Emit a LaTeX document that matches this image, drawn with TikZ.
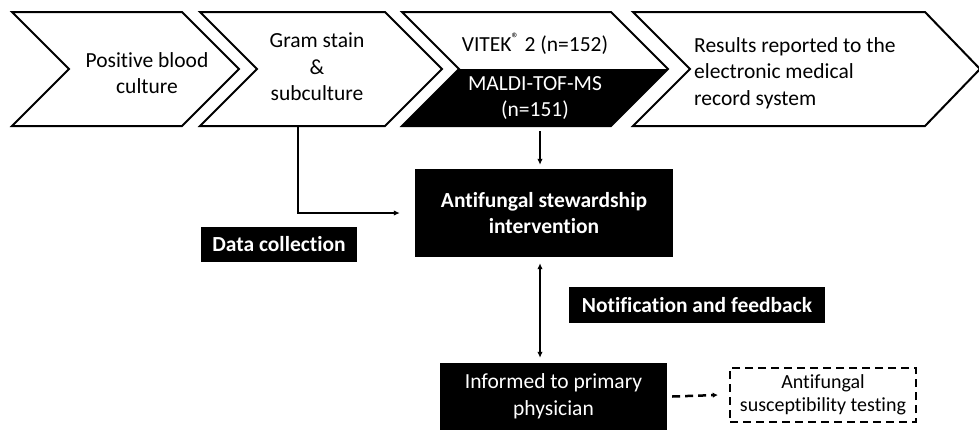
\documentclass[tikz,border=0pt]{standalone}
\usepackage{fontspec}
\setmainfont{Carlito}[Ligatures={NoCommon}]
\usetikzlibrary{arrows.meta}

\begin{document}
\begin{tikzpicture}[
	x=1pt, y=-1pt,
	chevron/.style={draw=black, line width=2pt, line join=miter, fill=white},
	txt/.style={font=\fontsize{21.5}{26.5}\selectfont, align=center, inner sep=0pt},
	blackbox/.style={fill=black, text=white, align=center, inner sep=0pt,
		font=\fontsize{21.5}{26.5}\selectfont},
	blackbold/.style={blackbox, font=\fontsize{21.5}{26.5}\selectfont\bfseries},
	arr/.style={line width=1.5pt, -{Latex[length=6pt,width=5.5pt]}}
	]
	
	% Obszar rysunku
	\useasboundingbox (0,0) rectangle (979,429);
	
	% Strzalki procesu
	\draw[chevron] (12,12) -- (182,12) -- (239,69) -- (182,126) -- (12,126) -- (69,69) -- cycle;
	\draw[chevron] (200,12) -- (385,12) -- (442,69) -- (385,126) -- (200,126) -- (257,69) -- cycle;
	\draw[chevron] (402,12) -- (611,12) -- (668,69) -- (611,126) -- (402,126) -- (459,69) -- cycle;
	\fill[black] (459,69) -- (668,69) -- (611,126) -- (402,126) -- cycle;
	\draw[chevron] (633,12) -- (925,12) -- (980,69) -- (925,126) -- (633,126) -- (690,69) -- cycle;
	
	% Opisy strzalek
	\node[txt] (blood) at (147,73) {Positive blood\\culture};
	\node[txt] (gram) at (317,67) {Gram stain\\\&\\subculture};
	\node[txt] (vitek) at (535,44) {VITEK\textsuperscript{\textregistered} 2 (n=152)};
	\node[txt, text=white] (maldi) at (535,98) {MALDI-TOF-MS\\(n=151)};
	\node[txt, align=left, anchor=west] (emr) at (694,73)
	{Results reported to the\\electronic medical\\record system};
	
	% Punkty zaczepienia
	\coordinate (gram-foot) at (298,127);
	\coordinate (maldi-foot) at (540,131);
	\coordinate (fb) at (540,0);
	
	% Bloki
	\node[blackbold, minimum width=258pt, minimum height=88pt] (interv) at (544,213)
	{Antifungal stewardship\\intervention};
	\node[blackbold, minimum width=156pt, minimum height=35pt] (data) at (279,244.5)
	{Data collection};
	\node[blackbold, minimum width=256pt, minimum height=36pt] (notif) at (697,305)
	{Notification and feedback};
	\node[blackbox, minimum width=227pt, minimum height=67pt] (informed) at (553.5,396.5)
	{Informed to primary\\physician};
	\node[draw, line width=2.5pt, dash pattern=on 8pt off 5pt, align=center, inner sep=0pt,
	minimum width=186pt, minimum height=54pt,
	font=\fontsize{20}{23}\selectfont] (ast) at (823,395)
	{Antifungal\\susceptibility testing};
	
	% Polaczenia
	\draw[arr] (gram-foot) |- ([xshift=-15pt]interv.west);
	\draw[arr] (maldi-foot) -- ([yshift=4pt]interv.north -| fb);
	\draw[line width=1.5pt, {Latex[length=6pt,width=5.5pt]}-{Latex[length=6pt,width=5.5pt]}]
	([yshift=-6pt]interv.south -| fb) -- ([yshift=5pt]informed.north -| fb);
	\draw[line width=2.5pt, dash pattern=on 8pt off 5pt, -{Latex[length=5pt,width=5.5pt]}]
	([xshift=5pt]informed.east) -- ([xshift=-11pt]ast.west);
	
\end{tikzpicture}
\end{document}
